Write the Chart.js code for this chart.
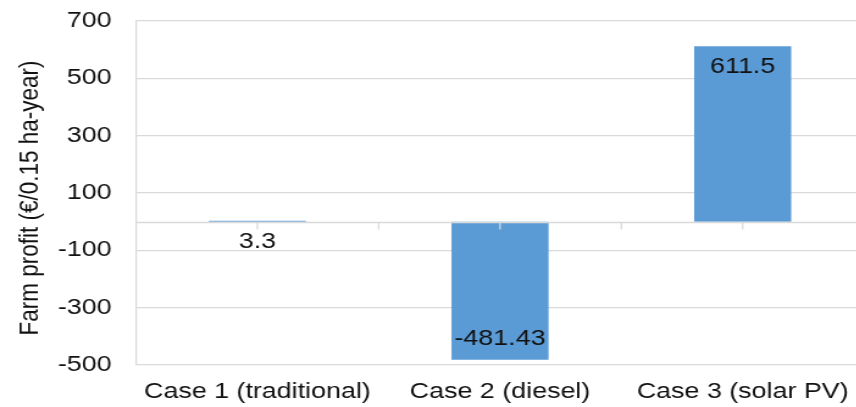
<!DOCTYPE html>
<html>
<head>
<meta charset="utf-8">
<script src="https://cdn.jsdelivr.net/npm/chart.js@4.4.1/dist/chart.umd.min.js"></script>
<style>
  html, body { margin: 0; padding: 0; background: #fff; overflow: hidden; }
  #wrap { width: 856px; height: 407px; overflow: hidden; position: relative; }
  #inner { width: 712px; height: 407px; transform: scaleX(1.22); transform-origin: 0 0; }
  canvas { display: block; }
</style>
</head>
<body>
<div id="wrap"><div id="inner"><canvas id="c" width="712" height="407"></canvas></div></div>
<script>
// Farm profit per case
const categories = ['Case 1 (traditional)', 'Case 2 (diesel)', 'Case 3 (solar PV)'];
const profits = [3.3, -481.43, 611.5];
const profitLabels = ['3.3', '-481.43', '611.5'];
const yTicks = [-500, -300, -100, 100, 300, 500, 700];
const yTitle = 'Farm profit (€/0.15 ha-year)';

const FONT = '"Liberation Sans", Arial, Helvetica, sans-serif';
const GRID = '#d9d9d9';
const BAR = '#5b9bd5';

// Horizontal line at zero with small tick marks at category centres and boundaries
const zeroAxis = {
  id: 'zeroAxis',
  afterDatasetsDraw(chart) {
    const { ctx, chartArea, scales } = chart;
    const y0 = Math.round(scales.y.getPixelForValue(0)) + 0.5;
    const x = scales.x;
    const half = (x.getPixelForValue(1) - x.getPixelForValue(0)) / 2;
    ctx.save();
    ctx.strokeStyle = GRID;
    ctx.lineWidth = 1.3;
    ctx.beginPath();
    ctx.moveTo(chartArea.left, y0);
    ctx.lineTo(chartArea.right, y0);
    for (let i = 0; i < categories.length; i++) {
      const c = x.getPixelForValue(i);
      [c, c + half].forEach(px => {
        ctx.moveTo(px, y0);
        ctx.lineTo(px, y0 + 7);
      });
    }
    ctx.stroke();
    ctx.restore();
  }
};

// Value labels just inside the end of each bar
const barValues = {
  id: 'barValues',
  afterDatasetsDraw(chart) {
    const { ctx } = chart;
    const meta = chart.getDatasetMeta(0);
    ctx.save();
    ctx.font = '22px ' + FONT;
    ctx.fillStyle = '#111';
    ctx.textAlign = 'center';
    ctx.textBaseline = 'middle';
    meta.data.forEach((bar, i) => {
      const v = profits[i];
      const y = bar.y + (v >= 0 ? 21 : -21);
      ctx.fillText(profitLabels[i], bar.x, y);
    });
    ctx.restore();
  }
};

// Rotated y-axis title
const axisTitle = {
  id: 'axisTitle',
  afterDraw(chart) {
    const { ctx } = chart;
    ctx.save();
    ctx.translate(24.6, 198);
    ctx.rotate(-Math.PI / 2);
    ctx.font = '22.5px ' + FONT;
    ctx.fillStyle = '#111';
    ctx.textAlign = 'center';
    ctx.textBaseline = 'middle';
    ctx.fillText(yTitle, 0, 0);
    ctx.restore();
  }
};

new Chart(document.getElementById('c'), {
  type: 'bar',
  data: {
    labels: categories,
    datasets: [{
      data: profits,
      backgroundColor: BAR,
      borderWidth: 0,
      barPercentage: 0.4,
      categoryPercentage: 1.0
    }]
  },
  options: {
    responsive: false,
    animation: false,
    devicePixelRatio: 1,
    layout: { padding: { left: 0, right: 3.8, top: 21, bottom: 0 } },
    plugins: { legend: { display: false }, tooltip: { enabled: false } },
    scales: {
      x: {
        grid: { display: false },
        border: { display: false },
        ticks: { color: '#111', font: { family: FONT, size: 22 }, padding: 6, maxRotation: 0, autoSkip: false },
        afterFit(scale) { scale.height = 42; }
      },
      y: {
        min: -500,
        max: 700,
        afterBuildTicks(scale) { scale.ticks = yTicks.map(v => ({ value: v })); },
        grid: { color: GRID, lineWidth: 1.3, drawTicks: false },
        border: { display: true, color: GRID, width: 1.3 },
        ticks: { color: '#111', font: { family: FONT, size: 22 }, padding: 20 },
        afterFit(scale) {
          scale.width = 111.5;
          scale.paddingTop = 0;
          scale.paddingBottom = 0;
        }
      }
    }
  },
  plugins: [zeroAxis, barValues, axisTitle]
});
</script>
</body>
</html>
